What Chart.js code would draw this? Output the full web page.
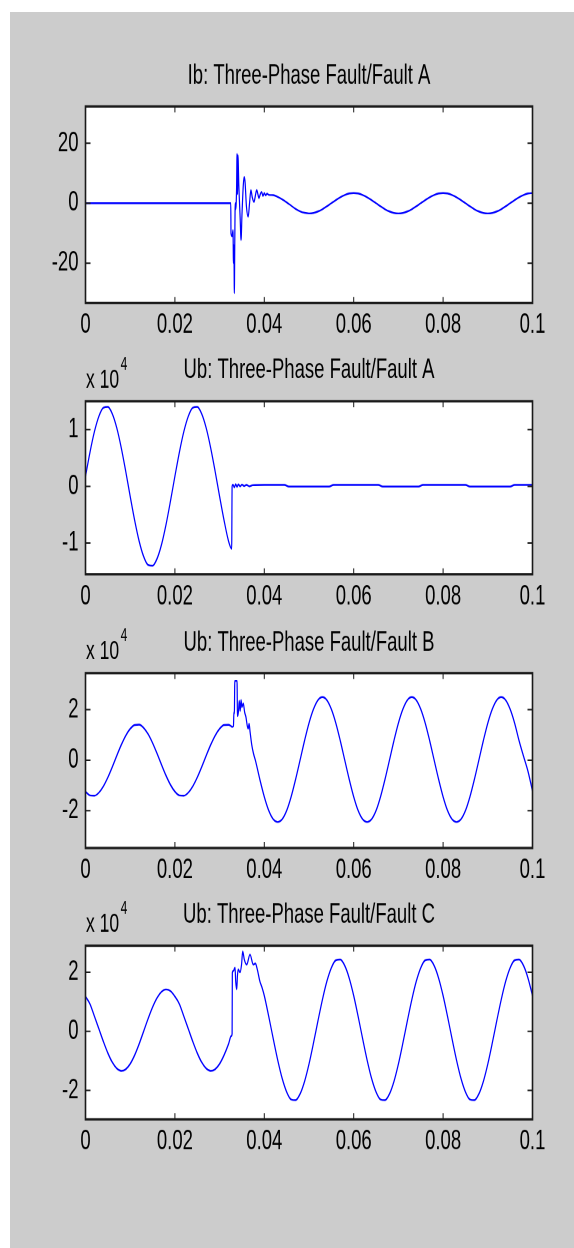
<!DOCTYPE html>
<html>
<head>
<meta charset="utf-8">
<script src="https://cdn.jsdelivr.net/npm/chart.js@4.4.1/dist/chart.umd.min.js"></script>
<style>
html,body{margin:0;padding:0;background:#ffffff;}
body{width:574px;height:1248px;position:relative;overflow:hidden;}
#bg{position:absolute;left:10px;top:12px;width:564px;height:1236px;background:#cccccc;}
.panel{position:absolute;left:0;width:574px;transform-origin:0 0;transform:scaleY(1.5);}
.panel canvas{display:block;}
</style>
</head>
<body>
<div id="bg"></div>
<div class="panel" style="top:50px"><canvas id="c1" width="574" height="195"></canvas></div>
<div class="panel" style="top:345px"><canvas id="c2" width="574" height="183"></canvas></div>
<div class="panel" style="top:620px"><canvas id="c3" width="574" height="182"></canvas></div>
<div class="panel" style="top:895px"><canvas id="c4" width="574" height="190"></canvas></div>
<script>
// ---------- tick values / labels ----------
const xTickValues = [0, 0.02, 0.04, 0.06, 0.08, 0.1];
const xTickLabels = ['0', '0.02', '0.04', '0.06', '0.08', '0.1'];
const ibTickValues = [-20, 0, 20];
const ibTickLabels = ['-20', '0', '20'];
const ubATickValues = [-10000, 0, 10000];
const ubATickLabels = ['-1', '0', '1'];
const ubBCTickValues = [-20000, 0, 20000];
const ubBCTickLabels = ['-2', '0', '2'];
const expBase = 'x 10';
const expPower = '4';

const titles = [
  'Ib: Three-Phase Fault/Fault A',
  'Ub: Three-Phase Fault/Fault A',
  'Ub: Three-Phase Fault/Fault B',
  'Ub: Three-Phase Fault/Fault C'
];

// ---------- Ib (A), panel 1 ----------
const ibTime = [0, 0.0325, 0.03255, 0.0328, 0.0330, 0.0331, 0.0332, 0.0333, 0.0334, 0.0335, 0.0336, 0.0338, 0.0339, 0.0340, 0.0341, 0.0343, 0.0346, 0.0348, 0.0350, 0.0353, 0.0355, 0.0357, 0.0360, 0.0364, 0.0367, 0.0370, 0.0373, 0.0377, 0.0380, 0.0383, 0.0386, 0.0388, 0.0391, 0.0394, 0.0397, 0.0400, 0.0403, 0.0406,
  0.041, 0.042, 0.043, 0.044, 0.045, 0.046, 0.047, 0.048, 0.049, 0.050,
  0.051, 0.052, 0.053, 0.054, 0.055, 0.056, 0.057, 0.058, 0.059, 0.060,
  0.061, 0.062, 0.063, 0.064, 0.065, 0.066, 0.067, 0.068, 0.069, 0.070,
  0.071, 0.072, 0.073, 0.074, 0.075, 0.076, 0.077, 0.078, 0.079, 0.080,
  0.081, 0.082, 0.083, 0.084, 0.085, 0.086, 0.087, 0.088, 0.089, 0.090,
  0.091, 0.092, 0.093, 0.094, 0.095, 0.096, 0.097, 0.098, 0.099, 0.100];
const ibValues = [0, 0, -10, -11, -9, -20, -14, -30, -12, 0, -2, 5, 16.5, 3, 16, 6, -5, -12.3, -4, 6, 8.8, 7, -1, -4.5, 0, 4.4, 2, 0.4, 2.5, 4.4, 2.8, 1.7, 3, 3.8, 2.4, 3.4, 2.6, 3.2,
  2.8, 2.7, 2.1, 1.3, 0.3, -0.8, -1.9, -2.7, -3.2, -3.4,
  -3.25, -2.75, -2.0, -1.05, 0, 1.05, 2.0, 2.75, 3.25, 3.4,
  3.25, 2.75, 2.0, 1.05, 0, -1.05, -2.0, -2.75, -3.25, -3.4,
  -3.25, -2.75, -2.0, -1.05, 0, 1.05, 2.0, 2.75, 3.25, 3.4,
  3.25, 2.75, 2.0, 1.05, 0, -1.05, -2.0, -2.75, -3.25, -3.4,
  -3.25, -2.75, -2.0, -1.05, 0, 1.05, 2.0, 2.75, 3.25, 3.4];

// ---------- Ub Fault A (V), panel 2 ----------
const ubATime = [0, 0.001, 0.002, 0.003, 0.004, 0.005, 0.006, 0.007, 0.008, 0.009, 0.010,
  0.011, 0.012, 0.013, 0.014, 0.015, 0.016, 0.017, 0.018, 0.019, 0.020,
  0.021, 0.022, 0.023, 0.024, 0.025, 0.026, 0.027, 0.028, 0.029, 0.030, 0.031, 0.032,
  0.0327, 0.0328, 0.0330, 0.0333, 0.0336, 0.0339, 0.0342, 0.0346, 0.0350, 0.0355, 0.0360, 0.0367, 0.0374,
  0.0400, 0.0445, 0.0455, 0.0545, 0.0555, 0.0655, 0.0665, 0.0745, 0.0755, 0.0850, 0.0860, 0.0950, 0.0960, 0.1000];
const ubAValues = [1770, 6000, 9650, 12350, 13850, 13990, 12760, 10280, 6790, 2640, -1770,
  -6000, -9650, -12350, -13850, -13990, -12760, -10280, -6790, -2640, 1770,
  6000, 9650, 12350, 13850, 13990, 12760, 10280, 6790, 2640, -1770, -6000, -9650,
  -11000, 0, 300, -200, 400, -100, 350, 0, 300, 50, 250, 0, 200,
  250, 250, -50, -50, 250, 250, -50, -50, 250, 250, -50, -50, 250, 250];

// ---------- Ub Fault B (V), panel 3 ----------
const ubBTime = [0, 0.001, 0.002, 0.003, 0.004, 0.005, 0.006, 0.007, 0.008, 0.009, 0.010,
  0.011, 0.012, 0.013, 0.014, 0.015, 0.016, 0.017, 0.018, 0.019, 0.020,
  0.021, 0.022, 0.023, 0.024, 0.025, 0.026, 0.027, 0.028, 0.029, 0.030, 0.031, 0.032,
  0.0325, 0.0328, 0.0331, 0.0332, 0.0333, 0.0334, 0.0339, 0.0340, 0.0342, 0.0344, 0.0346, 0.0348, 0.0350, 0.0353, 0.0356, 0.0359, 0.0362, 0.0364, 0.0366, 0.0368, 0.0372, 0.0376,
  0.038, 0.039, 0.040, 0.041, 0.042, 0.043, 0.044, 0.045, 0.046, 0.047,
  0.048, 0.049, 0.050, 0.051, 0.052, 0.053, 0.054, 0.055, 0.056, 0.057,
  0.058, 0.059, 0.060, 0.061, 0.062, 0.063, 0.064, 0.065, 0.066, 0.067,
  0.068, 0.069, 0.070, 0.071, 0.072, 0.073, 0.074, 0.075, 0.076, 0.077,
  0.078, 0.079, 0.080, 0.081, 0.082, 0.083, 0.084, 0.085, 0.086, 0.087,
  0.088, 0.089, 0.090, 0.091, 0.092, 0.093, 0.094, 0.095, 0.096, 0.097,
  0.098, 0.099, 0.100];
const ubBValues = [-12440, -13950, -14090, -12850, -10350, -6840, -2660, 1780, 6050, 9730, 12440,
  13950, 14090, 12850, 10350, 6840, 2660, -1780, -6050, -9730, -12440,
  -13950, -14090, -12850, -10350, -6840, -2660, 1780, 6050, 9730, 12440, 13950, 14000,
  13600, 13200, 13500, 19000, 18500, 31400, 31400, 17500, 19000, 23500, 19500, 23800, 21000, 22500, 19000, 17000, 13500, 12500, 14500, 11500, 6000, 2500,
  0, -7600, -14500, -20000, -23400, -24500, -23400, -20000, -14500, -7600,
  0, 7700, 14700, 20200, 23800, 25000, 23800, 20200, 14700, 7700,
  0, -7600, -14500, -20000, -23400, -24500, -23400, -20000, -14500, -7600,
  0, 7700, 14700, 20200, 23800, 25000, 23800, 20200, 14700, 7700,
  0, -7600, -14500, -20000, -23400, -24500, -23400, -20000, -14500, -7600,
  0, 7700, 14700, 20200, 23800, 25000, 23800, 20200, 14700, 7700,
  1500, -4500, -12200];

// ---------- Ub Fault C (V), panel 4 ----------
const ubCTime = [0, 0.001, 0.002, 0.003, 0.004, 0.005, 0.006, 0.007, 0.008, 0.009, 0.010,
  0.011, 0.012, 0.013, 0.014, 0.015, 0.016, 0.017, 0.018, 0.019, 0.020,
  0.021, 0.022, 0.023, 0.024, 0.025, 0.026, 0.027, 0.028, 0.029, 0.030, 0.031, 0.032,
  0.0326, 0.0328, 0.03285, 0.0331, 0.03345, 0.0336, 0.03383, 0.0340, 0.03418, 0.03456, 0.0349, 0.03517, 0.03553, 0.03606, 0.0368, 0.03754, 0.0380, 0.03843, 0.0390, 0.0395,
  0.040, 0.041, 0.042, 0.043, 0.044, 0.045, 0.046, 0.047, 0.048, 0.049,
  0.050, 0.051, 0.052, 0.053, 0.054, 0.055, 0.056, 0.057, 0.058, 0.059,
  0.060, 0.061, 0.062, 0.063, 0.064, 0.065, 0.066, 0.067, 0.068, 0.069,
  0.070, 0.071, 0.072, 0.073, 0.074, 0.075, 0.076, 0.077, 0.078, 0.079,
  0.080, 0.081, 0.082, 0.083, 0.084, 0.085, 0.086, 0.087, 0.088, 0.089,
  0.090, 0.091, 0.092, 0.093, 0.094, 0.095, 0.096, 0.097, 0.098, 0.099,
  0.100];
const ubCValues = [11810, 9260, 5080, 830, -3450, -7360, -10500, -12590, -13390, -12850, -11010,
  -8060, -4280, -30, 4250, 8160, 11300, 13390, 14190, 13650, 11810,
  9260, 5080, 830, -3450, -7360, -10500, -12590, -13390, -12850, -11010, -8060, -4280,
  -1600, -800, 19800, 20500, 21600, 17000, 14200, 19000, 21000, 20000, 22500, 27100, 24300, 22600, 26000, 22600, 23000, 21000, 17000, 14800,
  12070, 4990, -2510, -9720, -15940, -20520, -23070, -23310, -21220, -17000,
  -11070, -3990, 3510, 10720, 16940, 21520, 24070, 24310, 22220, 18000,
  12070, 4990, -2510, -9720, -15940, -20520, -23070, -23310, -21220, -17000,
  -11070, -3990, 3510, 10720, 16940, 21520, 24070, 24310, 22220, 18000,
  12070, 4990, -2510, -9720, -15940, -20520, -23070, -23310, -21220, -17000,
  -11070, -3990, 3510, 10720, 16940, 21520, 24070, 24310, 22220, 18000,
  12070];

// ---------- drawing ----------
const FONT = "'Liberation Sans', Arial, Helvetica, sans-serif";
const TEXT = '#000000';

const framePlugin = {
  id: 'frame',
  beforeDatasetsDraw(chart) {
    const {ctx, chartArea: a} = chart;
    ctx.save();
    ctx.fillStyle = '#ffffff';
    ctx.fillRect(a.left, a.top, a.right - a.left, a.bottom - a.top);
    ctx.restore();
  },
  afterDatasetsDraw(chart, args, opts) {
    const {ctx, chartArea: a, scales} = chart;
    const x = scales.x, y = scales.y;
    ctx.save();
    ctx.strokeStyle = '#1a1a1a';
    ctx.lineWidth = 1;
    ctx.beginPath();
    x.ticks.forEach(t => {
      const px = x.getPixelForValue(t.value);
      ctx.moveTo(px, a.bottom); ctx.lineTo(px, a.bottom - 4);
      ctx.moveTo(px, a.top); ctx.lineTo(px, a.top + 4);
    });
    y.ticks.forEach(t => {
      const py = y.getPixelForValue(t.value);
      ctx.moveTo(a.left, py); ctx.lineTo(a.left + 5, py);
      ctx.moveTo(a.right, py); ctx.lineTo(a.right - 5, py);
    });
    ctx.stroke();
    ctx.lineWidth = 1.6;
    ctx.strokeRect(a.left, a.top, a.right - a.left, a.bottom - a.top);
    if (opts && opts.exponent) {
      ctx.fillStyle = TEXT;
      ctx.textBaseline = 'middle';
      ctx.textAlign = 'left';
      ctx.font = '17.5px ' + FONT;
      const bx = a.left + 0.5;
      ctx.fillText(expBase, bx, a.top - 14);
      const w = ctx.measureText(expBase).width;
      ctx.font = '12px ' + FONT;
      ctx.fillText(expPower, bx + w + 1.5, a.top - 24.5);
    }
    ctx.restore();
  }
};

function makePanel(id, p) {
  const pts = p.time.map((t, i) => ({x: t, y: p.values[i]}));
  return new Chart(document.getElementById(id), {
    type: 'line',
    data: {datasets: [{
      data: pts,
      borderColor: '#0000ff',
      borderWidth: 1.2,
      pointRadius: 0,
      fill: false,
      cubicInterpolationMode: 'monotone'
    }]},
    options: {
      responsive: false,
      animation: false,
      devicePixelRatio: 2,
      events: [],
      layout: {padding: {left: 0, right: 41.5, top: 0, bottom: 0}},
      plugins: {
        legend: {display: false},
        tooltip: {enabled: false},
        title: {
          display: true, text: p.title, color: TEXT, fullSize: false, align: 'center',
          font: {family: FONT, size: 18.5, weight: 'normal', lineHeight: 1.2},
          padding: {top: p.padTop, bottom: p.padBottom}
        },
        frame: {exponent: p.exponent}
      },
      scales: {
        x: {
          type: 'linear', min: 0, max: 0.1,
          grid: {display: false, drawTicks: false},
          border: {display: false},
          afterBuildTicks: s => { s.ticks = xTickValues.map(v => ({value: v})); },
          afterFit: s => { s.height = p.xHeight; },
          ticks: {autoSkip: false, maxRotation: 0, minRotation: 0, padding: 3.7, color: TEXT,
            font: {family: FONT, size: 18.5},
            callback: (v, i) => xTickLabels[i]}
        },
        y: {
          type: 'linear', min: p.yMin, max: p.yMax,
          grid: {display: false, drawTicks: false},
          border: {display: false},
          afterBuildTicks: s => { s.ticks = p.yTicks.map(v => ({value: v})); },
          afterFit: s => { s.width = 85.5; },
          ticks: {autoSkip: false, padding: 7, color: TEXT,
            font: {family: FONT, size: 18.5},
            callback: (v, i) => p.yLabels[i]}
        }
      }
    },
    plugins: [framePlugin]
  });
}

makePanel('c1', {title: titles[0], time: ibTime, values: ibValues, yMin: -33.3, yMax: 32.3,
  yTicks: ibTickValues, yLabels: ibTickLabels, padTop: 6.2, padBottom: 9.2, xHeight: 26.33, exponent: false});
makePanel('c2', {title: titles[1], time: ubATime, values: ubAValues, yMin: -15500, yMax: 15000,
  yTicks: ubATickValues, yLabels: ubATickLabels, padTop: 5.6, padBottom: 9.66, xHeight: 30.13, exponent: true});
makePanel('c3', {title: titles[2], time: ubBTime, values: ubBValues, yMin: -34800, yMax: 34500,
  yTicks: ubBCTickValues, yLabels: ubBCTickLabels, padTop: 4.2, padBottom: 9.0, xHeight: 30, exponent: true});
makePanel('c4', {title: titles[3], time: ubCTime, values: ubCValues, yMin: -29800, yMax: 29000,
  yTicks: ubBCTickValues, yLabels: ubBCTickLabels, padTop: 2.2, padBottom: 9.4, xHeight: 40.47, exponent: true});
</script>
</body>
</html>
